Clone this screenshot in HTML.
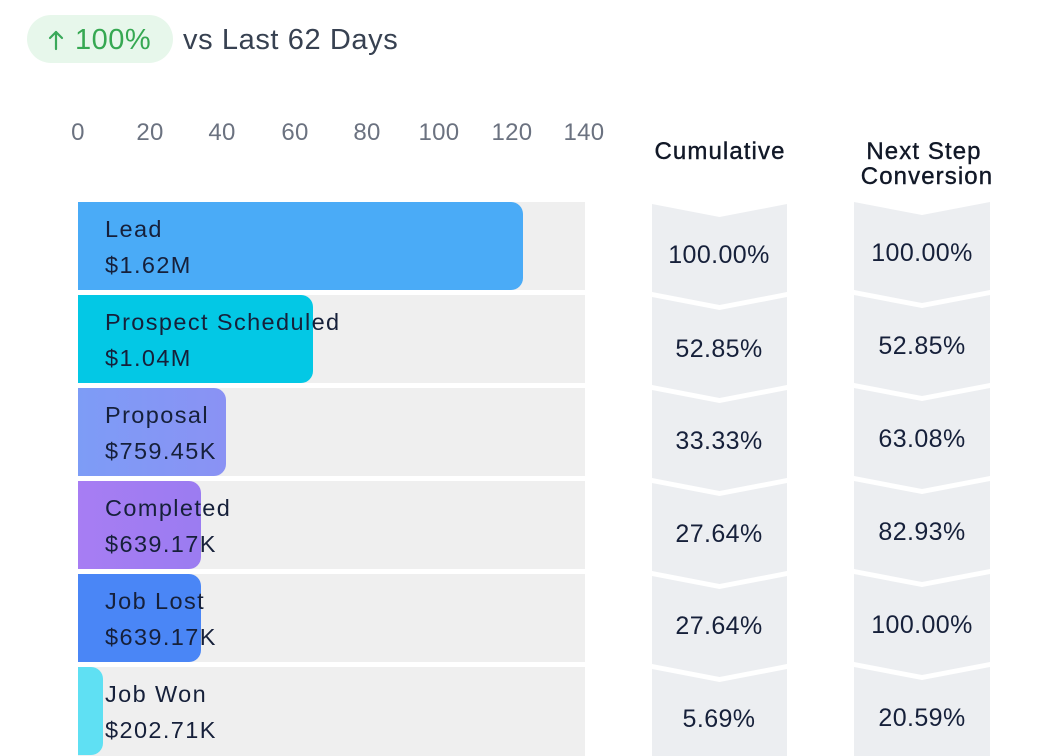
<!DOCTYPE html>
<html>
<head>
<meta charset="utf-8">
<style>
  html,body{margin:0;padding:0;background:#ffffff;}
  body{width:1045px;height:756px;overflow:hidden;position:relative;}
  svg{position:absolute;left:0;top:0;}
  text{font-family:"Liberation Sans", Arial, sans-serif;}
</style>
</head>
<body>
<svg width="1045" height="756" viewBox="0 0 1045 756" xmlns="http://www.w3.org/2000/svg">
  <defs>
    <linearGradient id="gProp" x1="0" x2="1" y1="0" y2="0">
      <stop offset="0" stop-color="#7d9cf6"/>
      <stop offset="1" stop-color="#8a92f4"/>
    </linearGradient>
    <linearGradient id="gComp" x1="0" x2="1" y1="0" y2="0">
      <stop offset="0" stop-color="#a77df3"/>
      <stop offset="1" stop-color="#9b7cf1"/>
    </linearGradient>
  </defs>

  <!-- Header pill -->
  <rect x="27" y="15" width="146" height="48" rx="24" ry="24" fill="#e7f7eb"/>
  <g stroke="#3aa95a" stroke-width="2.2" fill="none" stroke-linecap="round" stroke-linejoin="round">
    <line x1="56" y1="32" x2="56" y2="49"/>
    <polyline points="50,38 56,32 62,38"/>
  </g>
  <text x="75" y="49" font-size="29" fill="#36a852" letter-spacing="0.5">100%</text>
  <text x="183" y="49" font-size="29" fill="#374151" letter-spacing="0.6">vs Last 62 Days</text>

  <!-- Axis tick labels -->
  <g font-size="24" fill="#6b7280" text-anchor="middle" letter-spacing="0.3">
    <text x="78" y="140">0</text>
    <text x="150" y="140">20</text>
    <text x="222" y="140">40</text>
    <text x="295" y="140">60</text>
    <text x="367" y="140">80</text>
    <text x="439" y="140">100</text>
    <text x="512" y="140">120</text>
    <text x="584" y="140">140</text>
  </g>

  <!-- Row backgrounds -->
  <g fill="#efefef">
    <rect x="78" y="202" width="507" height="88"/>
    <rect x="78" y="295" width="507" height="88"/>
    <rect x="78" y="388" width="507" height="88"/>
    <rect x="78" y="481" width="507" height="88"/>
    <rect x="78" y="574" width="507" height="88"/>
    <rect x="78" y="667" width="507" height="89"/>
  </g>

  <!-- Bars (rounded right corners) -->
  <path d="M78,202 H511 A12,12 0 0 1 523,214 V278 A12,12 0 0 1 511,290 H78 Z" fill="#4aabf7"/>
  <path d="M78,295 H301 A12,12 0 0 1 313,307 V371 A12,12 0 0 1 301,383 H78 Z" fill="#03c8e5"/>
  <path d="M78,388 H214 A12,12 0 0 1 226,400 V464 A12,12 0 0 1 214,476 H78 Z" fill="url(#gProp)"/>
  <path d="M78,481 H189 A12,12 0 0 1 201,493 V557 A12,12 0 0 1 189,569 H78 Z" fill="url(#gComp)"/>
  <path d="M78,574 H189 A12,12 0 0 1 201,586 V650 A12,12 0 0 1 189,662 H78 Z" fill="#4a86f6"/>
  <path d="M78,667 H91 A12,12 0 0 1 103,679 V743 A12,12 0 0 1 91,755 H78 Z" fill="#5fe0f3"/>

  <!-- Bar labels -->
  <g font-size="23.5" fill="#16203a" letter-spacing="1.4">
    <text x="105" y="237">Lead</text>
    <text x="105" y="273">$1.62M</text>
    <text x="105" y="330">Prospect Scheduled</text>
    <text x="105" y="366">$1.04M</text>
    <text x="105" y="423">Proposal</text>
    <text x="105" y="459">$759.45K</text>
    <text x="105" y="516">Completed</text>
    <text x="105" y="552">$639.17K</text>
    <text x="105" y="609">Job Lost</text>
    <text x="105" y="645">$639.17K</text>
    <text x="105" y="702">Job Won</text>
    <text x="105" y="738">$202.71K</text>
  </g>

  <!-- Column headers -->
  <g font-size="24" fill="#111827" text-anchor="middle" letter-spacing="1.1" stroke="#111827" stroke-width="0.4">
    <text x="720" y="159">Cumulative</text>
    <text x="924" y="159">Next Step</text>
    <text x="927" y="184">Conversion</text>
  </g>

  <!-- Cumulative chevrons -->
  <g fill="#eceef1">
    <polygon points="652,204 719.5,217 787,204 787,292 719.5,305 652,292"/>
    <polygon points="652,297 719.5,310 787,297 787,385 719.5,398 652,385"/>
    <polygon points="652,390 719.5,403 787,390 787,478 719.5,491 652,478"/>
    <polygon points="652,483 719.5,496 787,483 787,571 719.5,584 652,571"/>
    <polygon points="652,576 719.5,589 787,576 787,664 719.5,677 652,664"/>
    <polygon points="652,669 719.5,682 787,669 787,756 652,756"/>
  </g>
  <!-- Next step chevrons -->
  <g fill="#eceef1">
    <polygon points="854,202 922,215 990,202 990,290 922,303 854,290"/>
    <polygon points="854,295 922,308 990,295 990,383 922,396 854,383"/>
    <polygon points="854,388 922,401 990,388 990,476 922,489 854,476"/>
    <polygon points="854,481 922,494 990,481 990,569 922,582 854,569"/>
    <polygon points="854,574 922,587 990,574 990,662 922,675 854,662"/>
    <polygon points="854,667 922,680 990,667 990,756 854,756"/>
  </g>

  <!-- Percent values -->
  <g font-size="25" fill="#16203a" text-anchor="middle" letter-spacing="0.4">
    <text x="719" y="263">100.00%</text>
    <text x="719" y="357">52.85%</text>
    <text x="719" y="449">33.33%</text>
    <text x="719" y="542">27.64%</text>
    <text x="719" y="634">27.64%</text>
    <text x="719" y="727">5.69%</text>

    <text x="922" y="261">100.00%</text>
    <text x="922" y="354">52.85%</text>
    <text x="922" y="447">63.08%</text>
    <text x="922" y="540">82.93%</text>
    <text x="922" y="633">100.00%</text>
    <text x="922" y="726">20.59%</text>
  </g>
</svg>
</body>
</html>
